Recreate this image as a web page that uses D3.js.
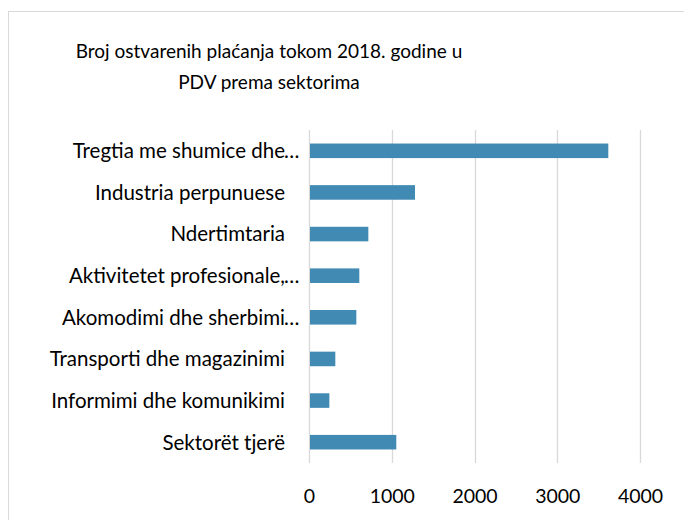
<!DOCTYPE html>
<html>
<head>
<meta charset="utf-8">
<script src="https://cdn.jsdelivr.net/npm/d3@7"></script>
<style>
  html, body { margin: 0; padding: 0; background: #fff; }
  svg { display: block; font-family: Lato, "Open Sans", sans-serif; }
</style>
</head>
<body>
<div id="chart"></div>
<script>
// chart data
const titleLines = ["Broj ostvarenih plaćanja tokom 2018. godine u", "PDV prema sektorima"];
const sectors = [
  "Tregtia me shumice dhe…",
  "Industria perpunuese",
  "Ndertimtaria",
  "Aktivitetet profesionale,…",
  "Akomodimi dhe sherbimi…",
  "Transporti dhe magazinimi",
  "Informimi dhe komunikimi",
  "Sektorët tjerë"
];
const payments = [3617, 1281, 717, 608, 572, 318, 246, 1055];
const xTicks = [0, 1000, 2000, 3000, 4000];

const width = 684;
const height = 520;
const margin = {top: 130, right: 44, bottom: 57, left: 309};

const svg = d3.select("#chart").append("svg")
    .attr("width", width)
    .attr("height", height);

// chart border (runs off the right and bottom edge)
svg.append("rect")
    .attr("x", 8.5)
    .attr("y", 11.5)
    .attr("width", width)
    .attr("height", height)
    .attr("fill", "#fff")
    .attr("stroke", "#d9d9d9");

//Title, two lines
svg.append("text")
    .attr("text-anchor", "middle")
    .attr("fill", "#000")
    .style("font-size", "19px")
    .selectAll("tspan")
    .data(titleLines)
    .join("tspan")
    .attr("x", 269)
    .attr("y", (d, i) => 58 + i * 31)
    .text(d => d);

const x = d3.scaleLinear()
    .domain([0, 4000])
    .range([margin.left, width - margin.right]);

const y = d3.scaleBand()
    .domain(sectors)
    .range([margin.top, height - margin.bottom])
    .paddingInner(0.65)
    .paddingOuter(0.325);

//Gridlines
svg.append("g")
    .selectAll("line")
    .data(xTicks)
    .join("line")
    .attr("x1", d => Math.round(x(d)) + 0.5)
    .attr("x2", d => Math.round(x(d)) + 0.5)
    .attr("y1", margin.top)
    .attr("y2", height - margin.bottom)
    .attr("stroke", "#d9d9d9")
    .attr("stroke-width", 1.3);

//Bars
svg.append("g")
    .selectAll("rect")
    .data(payments)
    .join("rect")
    .attr("x", x(0) + 1)
    .attr("y", (d, i) => y(sectors[i]))
    .attr("width", d => x(d) - x(0) - 1)
    .attr("height", y.bandwidth())
    .attr("fill", "#418ab3");

//X axis tick labels
const xAxis = svg.append("g")
    .attr("transform", `translate(0,${height - margin.bottom})`)
    .call(d3.axisBottom(x).tickValues(xTicks).tickSize(0).tickPadding(26).tickFormat(d3.format("d")));
xAxis.select(".domain").remove();
xAxis.selectAll("text")
    .attr("fill", "#000")
    .style("font-size", "19.5px")
    .style("font-family", "Lato, 'Open Sans', sans-serif");

//Category labels, the ellipsis hangs past the text
const labels = svg.append("g")
    .selectAll("g")
    .data(sectors)
    .join("g")
    .attr("transform", d => `translate(0,${y(d) + y.bandwidth() / 2})`)
    .style("font-size", "20.5px")
    .attr("fill", "#000");

labels.append("text")
    .attr("x", 285)
    .attr("dy", "0.36em")
    .attr("text-anchor", "end")
    .text(d => d.replace("…", ""));

labels.filter(d => d.endsWith("…"))
    .append("text")
    .attr("x", 284)
    .attr("dy", "0.36em")
    .text("…");
</script>
</body>
</html>
